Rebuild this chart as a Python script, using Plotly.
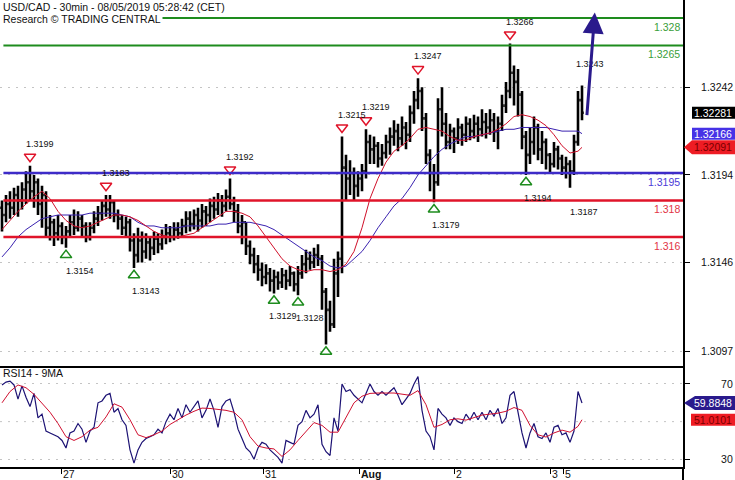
import plotly.graph_objects as go

# ---------------- data ----------------
bars = list(range(146))          # 1-hour bar index (two 30-min bars each)
open_first = 1.3176
close = [
    1.3172, 1.3178, 1.3176, 1.3183, 1.3180, 1.3186, 1.3190, 1.3185, 1.3190, 1.3178,
    1.3183, 1.3165, 1.3168, 1.3162, 1.3166, 1.3160, 1.3163, 1.3168, 1.3165, 1.3170,
    1.3166, 1.3160, 1.3165, 1.3170, 1.3173, 1.3177, 1.3175, 1.3179, 1.3172, 1.3170,
    1.3165, 1.3168, 1.3158, 1.3150, 1.3158, 1.3152, 1.3157, 1.3154, 1.3159, 1.3156,
    1.3160, 1.3162, 1.3160, 1.3164, 1.3162, 1.3166, 1.3170, 1.3167, 1.3172, 1.3169,
    1.3174, 1.3172, 1.3177, 1.3175, 1.3180, 1.3177, 1.3182, 1.3178, 1.3174, 1.3166,
    1.3168, 1.3155, 1.3150, 1.3145, 1.3142, 1.3138, 1.3140, 1.3136, 1.3138, 1.3135,
    1.3139, 1.3136, 1.3140, 1.3134, 1.3140, 1.3145, 1.3148, 1.3146, 1.3150, 1.3148,
    1.3130, 1.3120, 1.3112, 1.3140, 1.3148, 1.3198, 1.3192, 1.3195, 1.3188, 1.3192,
    1.3196, 1.3212, 1.3208, 1.3210, 1.3203, 1.3206, 1.3212, 1.3215, 1.3218, 1.3214,
    1.3220, 1.3216, 1.3228, 1.3235, 1.3240, 1.3225, 1.3205, 1.3195, 1.3190, 1.3230,
    1.3222, 1.3212, 1.3218, 1.3214, 1.3220, 1.3216, 1.3222, 1.3218, 1.3222, 1.3219,
    1.3223, 1.3220, 1.3224, 1.3218, 1.3222, 1.3232, 1.3240, 1.3250, 1.3245, 1.3238,
    1.3215, 1.3205, 1.3212, 1.3220, 1.3208, 1.3212, 1.3205, 1.3200, 1.3208, 1.3203,
    1.3198, 1.3200, 1.3196, 1.3212, 1.3235, 1.32281]
high = [
    1.3180, 1.3183, 1.3185, 1.3187, 1.3188, 1.3190, 1.3196, 1.3199, 1.3194, 1.3192,
    1.3188, 1.3185, 1.3172, 1.3170, 1.3172, 1.3168, 1.3166, 1.3172, 1.3175, 1.3174,
    1.3172, 1.3168, 1.3168, 1.3174, 1.3177, 1.3180, 1.3183, 1.3183, 1.3180, 1.3175,
    1.3172, 1.3171, 1.3170, 1.3162, 1.3165, 1.3163, 1.3162, 1.3160, 1.3163, 1.3162,
    1.3164, 1.3167, 1.3166, 1.3168, 1.3168, 1.3170, 1.3174, 1.3174, 1.3175, 1.3176,
    1.3178, 1.3177, 1.3181, 1.3182, 1.3184, 1.3183, 1.3186, 1.3192, 1.3182, 1.3178,
    1.3172, 1.3168, 1.3158, 1.3154, 1.3150, 1.3146, 1.3145, 1.3143, 1.3142, 1.3141,
    1.3143, 1.3142, 1.3144, 1.3141, 1.3144, 1.3150, 1.3153, 1.3152, 1.3154, 1.3156,
    1.3150, 1.3132, 1.3125, 1.3148, 1.3152, 1.3215, 1.3205, 1.3202, 1.3198, 1.3196,
    1.3200, 1.3219, 1.3216, 1.3215, 1.3212, 1.3211, 1.3216, 1.3220, 1.3224, 1.3222,
    1.3226, 1.3223, 1.3232, 1.3240, 1.3247, 1.3242, 1.3228, 1.3208, 1.3200, 1.3236,
    1.3242, 1.3228, 1.3222, 1.3220, 1.3225, 1.3222, 1.3226, 1.3225, 1.3227, 1.3226,
    1.3230, 1.3228, 1.3230, 1.3228, 1.3226, 1.3238, 1.3245, 1.3266, 1.3254, 1.3252,
    1.3240, 1.3218, 1.3220, 1.3226, 1.3222, 1.3218, 1.3214, 1.3206, 1.3212, 1.3210,
    1.3205, 1.3204, 1.3202, 1.3216, 1.3240, 1.3243]
low = [
    1.3163, 1.3168, 1.3170, 1.3172, 1.3171, 1.3175, 1.3178, 1.3180, 1.3176, 1.3172,
    1.3165, 1.3160, 1.3158, 1.3155, 1.3158, 1.3156, 1.3154, 1.3160, 1.3161, 1.3163,
    1.3160, 1.3157, 1.3158, 1.3162, 1.3166, 1.3169, 1.3171, 1.3170, 1.3168, 1.3164,
    1.3161, 1.3160, 1.3152, 1.3143, 1.3146, 1.3146, 1.3148, 1.3147, 1.3150, 1.3151,
    1.3153, 1.3156, 1.3157, 1.3158, 1.3159, 1.3160, 1.3162, 1.3163, 1.3164, 1.3163,
    1.3165, 1.3166, 1.3168, 1.3170, 1.3172, 1.3171, 1.3174, 1.3175, 1.3168, 1.3162,
    1.3156, 1.3150, 1.3145, 1.3140, 1.3136, 1.3133, 1.3134, 1.3130, 1.3129, 1.3131,
    1.3132, 1.3131, 1.3133, 1.3130, 1.3128, 1.3137, 1.3140, 1.3142, 1.3143, 1.3144,
    1.3120, 1.3101, 1.3108, 1.3110, 1.3127, 1.3140, 1.3180, 1.3183, 1.3180, 1.3182,
    1.3185, 1.3192, 1.3200, 1.3200, 1.3198, 1.3199, 1.3203, 1.3205, 1.3210, 1.3207,
    1.3210, 1.3208, 1.3212, 1.3222, 1.3230, 1.3218, 1.3200, 1.3185, 1.3179, 1.3188,
    1.3215, 1.3208, 1.3208, 1.3206, 1.3211, 1.3210, 1.3212, 1.3213, 1.3214, 1.3212,
    1.3215, 1.3214, 1.3216, 1.3212, 1.3208, 1.3218, 1.3228, 1.3236, 1.3232, 1.3226,
    1.3208, 1.3194, 1.3200, 1.3205, 1.3202, 1.3200, 1.3197, 1.3195, 1.3198, 1.3197,
    1.3194, 1.3192, 1.3187, 1.3194, 1.3210, 1.3224]
open_ = [open_first] + close[:-1]

ma_bars = list(range(0, 146, 2)) + [145]
ma_fast = [
    1.3164, 1.3169, 1.3174, 1.3178, 1.3182, 1.3185, 1.3181, 1.3174, 1.3169, 1.3166,
    1.3165, 1.3166, 1.3168, 1.3170, 1.3172, 1.3172, 1.3171, 1.3169, 1.3166, 1.3163,
    1.3161, 1.3160, 1.3160, 1.3161, 1.3162, 1.3165, 1.3168, 1.3171, 1.3174, 1.3174,
    1.3173, 1.3171, 1.3166, 1.3160, 1.3154, 1.3148, 1.3144, 1.3142, 1.3141, 1.3142,
    1.3142, 1.3141, 1.3142, 1.3145, 1.3152, 1.3165, 1.3181, 1.3192, 1.3201, 1.3207,
    1.3210, 1.3214, 1.3219, 1.3220, 1.3219, 1.3218, 1.3215, 1.3213, 1.3213, 1.3215,
    1.3216, 1.3217, 1.3219, 1.3222, 1.3226, 1.3227, 1.3226, 1.3224, 1.3221, 1.3216,
    1.3210, 1.3206, 1.3207, 1.32091]
ma_slow = [
    1.3149, 1.3154, 1.3160, 1.3164, 1.3167, 1.3170, 1.3171, 1.3172, 1.3172, 1.3172,
    1.3172, 1.3173, 1.3173, 1.3173, 1.3173, 1.3172, 1.3171, 1.3168, 1.3166, 1.3166,
    1.3165, 1.3165, 1.3165, 1.3166, 1.3166, 1.3166, 1.3166, 1.3167, 1.3167, 1.3168,
    1.3168, 1.3168, 1.3167, 1.3166, 1.3164, 1.3161, 1.3158, 1.3155, 1.3152, 1.3149,
    1.3147, 1.3144, 1.3143, 1.3144, 1.3148, 1.3152, 1.3158, 1.3165, 1.3171, 1.3177,
    1.3181, 1.3187, 1.3194, 1.3199, 1.3204, 1.3208, 1.3211, 1.3213, 1.3215, 1.3215,
    1.3216, 1.3217, 1.3218, 1.3219, 1.3219, 1.3220, 1.3220, 1.3220, 1.3220, 1.3219,
    1.3218, 1.3218, 1.3218, 1.32166]

rsi = [
    69.5, 71, 71.5, 69.5, 62, 69, 63, 58, 65, 52,
    54, 45, 44, 43, 42, 40, 36, 44, 45, 49,
    46, 39, 45, 47, 60, 61, 64, 65, 55, 57,
    51, 48, 35, 28, 35, 39, 41, 42, 43, 46,
    44, 50, 54, 51, 57, 52, 59, 55, 58, 61,
    52, 56, 62, 56, 47, 58, 61, 62, 55, 46,
    41, 36, 34, 30, 36, 39, 38, 35, 33, 31,
    28, 40, 39, 38, 48, 50, 56, 52, 54, 59,
    38, 34, 32, 52, 45, 70, 66, 67, 64, 62,
    60, 65, 70, 66, 64, 66, 64, 66, 68, 64,
    59, 62, 65, 70, 74, 56, 45, 42, 35, 57,
    54, 52, 48, 52, 50, 49, 54, 51, 55, 51,
    55, 51, 56, 53, 57, 49, 52, 64, 66, 55,
    44, 36, 44, 49, 42, 41, 44, 39, 47, 48,
    43, 44, 39, 45, 66, 59.8848]
rsi_ma = [
    60, 66, 69.5, 68, 64.5, 60, 55, 49, 42, 40,
    42, 45.5, 47, 52.5, 59.5, 57.7, 51, 43, 41.5, 43,
    45, 48.5, 51, 53.5, 55.5, 57.2, 57, 56.5, 56, 55,
    51, 42, 37, 36, 35.5, 31.5, 35, 40, 45, 49.5,
    48, 44.4, 44.4, 52, 60, 63.5, 65, 65.2, 65.2, 65.2,
    64.6, 64, 66.5, 59, 47, 48.5, 51, 51.5, 50.8, 52,
    53.5, 54, 54.5, 55.5, 57.5, 56, 48, 43, 41.8, 44,
    45.5, 44.4, 47.5, 51.0101]

pivot_high_bars = [7, 26, 57, 85, 91, 104, 127]
pivot_high_text = ["1.3199", "1.3183", "1.3192", "1.3215", "1.3219", "1.3247", "1.3266"]
pivot_low_bars = [16, 33, 68, 74, 81, 108, 131]
pivot_low_text = ["1.3154", "1.3143", "1.3129", "1.3128", "", "1.3179", "1.3194"]
extra_low_bar, extra_low_text = 142, "1.3187"
extra_high_bar, extra_high_text = 145, "1.3243"

resistance_levels = [1.328, 1.3265]
resistance_text = ["1.328", "1.3265"]
pivot_level = 1.3195
pivot_level_text = "1.3195"
support_levels = [1.318, 1.316]
support_text = ["1.318", "1.316"]

projection_bars = [146.2, 148.2]
projection_prices = [1.3226, 1.3283]

price_ticks = [1.3242, 1.3194, 1.3146, 1.3097]
price_tick_text = ["1.3242", "1.3194", "1.3146", "1.3097"]
rsi_ticks = [30, 70]

day_tick_bars = [14.75, 42, 65.25, 89.25, 113, 137, 140.25]
day_labels = ["27", "30", "31", "<b>Aug</b>", "2", "3", "5"]

last_price = 1.32281
last_ma_slow = 1.32166
last_ma_fast = 1.32091
last_rsi = 59.8848
last_rsi_ma = 51.0101

# ---------------- styles ----------------
FONT = "Liberation Sans, Arial, sans-serif"
GREEN = "#1e8c1e"
RED = "#e0142a"
BLUE = "#3d2bc8"
NAVY = "#2a1a8c"
GRID = "#c4c4c4"

fig = go.Figure()

fig.add_trace(go.Ohlc(
    x=bars, open=open_, high=high, low=low, close=close,
    increasing=dict(line=dict(color="black", width=2.6)),
    decreasing=dict(line=dict(color="black", width=2.6)),
    tickwidth=0.45, xaxis="x", yaxis="y", showlegend=False, hoverinfo="skip"))

fig.add_trace(go.Scatter(x=ma_bars, y=ma_slow, mode="lines",
                         line=dict(color="#3a22b0", width=1), xaxis="x", yaxis="y",
                         showlegend=False, hoverinfo="skip"))
fig.add_trace(go.Scatter(x=ma_bars, y=ma_fast, mode="lines",
                         line=dict(color="#d0102a", width=1), xaxis="x", yaxis="y",
                         showlegend=False, hoverinfo="skip"))

# pivot triangles
fig.add_trace(go.Scatter(
    x=pivot_high_bars, y=[high[b] + 0.0005 for b in pivot_high_bars], mode="markers",
    marker=dict(symbol="triangle-down-open", size=10, color=RED, line=dict(width=1.5)),
    xaxis="x", yaxis="y", showlegend=False, hoverinfo="skip"))
fig.add_trace(go.Scatter(
    x=pivot_low_bars, y=[low[b] - 0.0004 for b in pivot_low_bars], mode="markers",
    marker=dict(symbol="triangle-up-open", size=10, color=GREEN, line=dict(width=1.5)),
    xaxis="x", yaxis="y", showlegend=False, hoverinfo="skip"))

# RSI panel
fig.add_trace(go.Scatter(x=bars, y=rsi, mode="lines", line=dict(color="#1c1274", width=1.2),
                         xaxis="x2", yaxis="y2", showlegend=False, hoverinfo="skip"))
fig.add_trace(go.Scatter(x=ma_bars, y=rsi_ma, mode="lines", line=dict(color="#d01030", width=1),
                         xaxis="x2", yaxis="y2", showlegend=False, hoverinfo="skip"))

shapes = []
annotations = []

# horizontal levels
def level(y, color, width, text, tcolor):
    shapes.append(dict(type="line", xref="paper", x0=0.005, x1=1, yref="y", y0=y, y1=y,
                       line=dict(color=color, width=width), layer="above"))
    annotations.append(dict(xref="paper", x=1, xanchor="right", xshift=-1, yref="y", y=y,
                            yanchor="top", yshift=-1, text=text, showarrow=False,
                            font=dict(family=FONT, size=10.5, color=tcolor)))

for v, t in zip(resistance_levels, resistance_text):
    level(v, GREEN, 2, t, "#3a9e3a")
level(pivot_level, BLUE, 2.5, pivot_level_text, "#4a3ad8")
for v, t in zip(support_levels, support_text):
    level(v, RED, 2.5, t, "#e23444")

# pivot labels
for b, t in zip(pivot_high_bars, pivot_high_text):
    annotations.append(dict(x=b, y=high[b], xref="x", yref="y", text=t, showarrow=False,
                            xanchor="left", xshift=-6, yanchor="middle", yshift=22,
                            font=dict(family=FONT, size=9, color="#111")))
low_xshift = [-2, -4, -7, -4, 0, -4, -4]
for b, t, s in zip(pivot_low_bars, pivot_low_text, low_xshift):
    if t:
        annotations.append(dict(x=b, y=low[b], xref="x", yref="y", text=t, showarrow=False,
                                xanchor="left", xshift=s, yanchor="middle", yshift=-23,
                                font=dict(family=FONT, size=9, color="#111")))
annotations.append(dict(x=extra_low_bar, y=low[extra_low_bar], xref="x", yref="y",
                        text=extra_low_text, showarrow=False, xanchor="left", xshift=-2,
                        yanchor="middle", yshift=-24, font=dict(family=FONT, size=9, color="#111")))
annotations.append(dict(x=extra_high_bar, y=high[extra_high_bar], xref="x", yref="y",
                        text=extra_high_text, showarrow=False, xanchor="left", xshift=-8,
                        yanchor="middle", yshift=22, font=dict(family=FONT, size=9, color="#111")))

# projection arrow
annotations.append(dict(x=projection_bars[1], y=projection_prices[1], ax=projection_bars[0],
                        ay=projection_prices[0], xref="x", yref="y", axref="x", ayref="y",
                        text="", showarrow=True, arrowhead=2, arrowsize=1.4, arrowwidth=3,
                        arrowcolor=NAVY, standoff=0, startstandoff=0))

# titles
annotations.append(dict(xref="paper", yref="paper", x=0, y=1, xanchor="left", yanchor="top",
                        xshift=1, yshift=1, text="USD/CAD - 30min - 08/05/2019 05:28:42 (CET)",
                        showarrow=False, font=dict(family=FONT, size=10.5, color="#111")))
annotations.append(dict(xref="paper", yref="paper", x=0, y=1, xanchor="left", yanchor="top",
                        xshift=1, yshift=-11, text="Research © TRADING CENTRAL", bgcolor="white",
                        borderpad=1, showarrow=False, font=dict(family=FONT, size=10.5, color="#111")))
annotations.append(dict(xref="paper", yref="y2", x=0, y=rsi_ticks[1], xanchor="left",
                        yanchor="middle", xshift=1, yshift=11, text="RSI14 - 9MA",
                        showarrow=False, font=dict(family=FONT, size=10.5, color="#111")))

# day labels
for b, t in zip(day_tick_bars, day_labels):
    annotations.append(dict(x=b, xref="x2", yref="paper", y=0, xanchor="left", yanchor="middle",
                            xshift=1, yshift=-7, text=t, showarrow=False, borderpad=0,
                            font=dict(family=FONT, size=10.5, color="#111")))

# value tags on right
def tag(y, yref, bg, text, tcolor, left, arrow):
    if arrow:
        path = f"M 1 0 L {left} 7 L 52 7 L 52 -7 L {left} -7 Z"
    else:
        path = f"M {left} 6 L 52 6 L 52 -6 L {left} -6 Z"
    shapes.append(dict(type="path", xref="paper", xsizemode="pixel", xanchor=1,
                       yref=yref, ysizemode="pixel", yanchor=y, path=path,
                       fillcolor=bg, line=dict(width=0), layer="above"))
    annotations.append(dict(xref="paper", x=1, xanchor="right", xshift=51, yref=yref, y=y,
                            yanchor="middle", text=text, showarrow=False,
                            font=dict(family=FONT, size=10.5, color=tcolor)))

tag(last_price, "y", "black", f"{last_price:.5f}", "white", 9, False)
tag(last_ma_slow, "y", "#4632e6", f"{last_ma_slow:.5f}", "white", 9, False)
tag(last_ma_fast, "y", "#ee1c24", f"{last_ma_fast:.5f}", "#7a0000", 9, True)
tag(last_rsi, "y2", NAVY, f"{last_rsi:.4f}", "white", 12, True)
tag(last_rsi_ma, "y2", "#ee1c24", f"{last_rsi_ma:.4f}", "#7a0000", 8, False)

# RSI 50 grid line and axis extension
shapes.append(dict(type="line", xref="paper", x0=0, x1=1, yref="y2", y0=50, y1=50,
                   line=dict(color=GRID, width=1, dash="2px,6px"), layer="below"))
shapes.append(dict(type="line", xref="paper", x0=1, x1=1, yref="paper", y0=-0.03, y1=0,
                   line=dict(color="black", width=2)))

DOM = 101 / 467
fig.update_layout(
    width=735, height=480,
    margin=dict(l=0, r=52, t=0, b=13),
    paper_bgcolor="white", plot_bgcolor="white",
    font=dict(family=FONT, size=10.5, color="#111"),
    showlegend=False,
    xaxis=dict(domain=[0, 1], anchor="y", range=[-0.5, 170.25], showgrid=False,
               showticklabels=False, ticks="", zeroline=False, showline=True,
               linecolor="black", linewidth=2, rangeslider=dict(visible=False)),
    xaxis2=dict(domain=[0, 1], anchor="y2", matches="x", range=[-0.5, 170.25], showgrid=False,
                showticklabels=False, ticks="outside", ticklen=5, tickcolor="black",
                tickmode="array", tickvals=day_tick_bars, zeroline=False, showline=True,
                linecolor="black", linewidth=2),
    yaxis=dict(domain=[DOM, 1], anchor="x", side="right", range=[1.30892, 1.32899],
               tickmode="array", tickvals=price_ticks, ticktext=price_tick_text,
               ticks="outside", ticklen=5, tickcolor="black", showline=True,
               linecolor="black", linewidth=2, showgrid=True, gridcolor=GRID,
               griddash="2px,6px", zeroline=False, ticklabelstandoff=9,
               tickfont=dict(family=FONT, size=10.5, color="#111")),
    yaxis2=dict(domain=[0, DOM], anchor="x2", side="right", range=[25.9, 79.56],
                tickmode="array", tickvals=rsi_ticks, ticks="outside", ticklen=5,
                tickcolor="black", showline=True, linecolor="black", linewidth=2,
                showgrid=True, gridcolor=GRID, griddash="2px,6px", zeroline=False,
                ticklabelstandoff=29, tickfont=dict(family=FONT, size=10.5, color="#111")),
    shapes=shapes,
    annotations=annotations,
)

fig.write_html("out.html", config={"displayModeBar": False},
               post_script="document.body.style.margin='0';")
